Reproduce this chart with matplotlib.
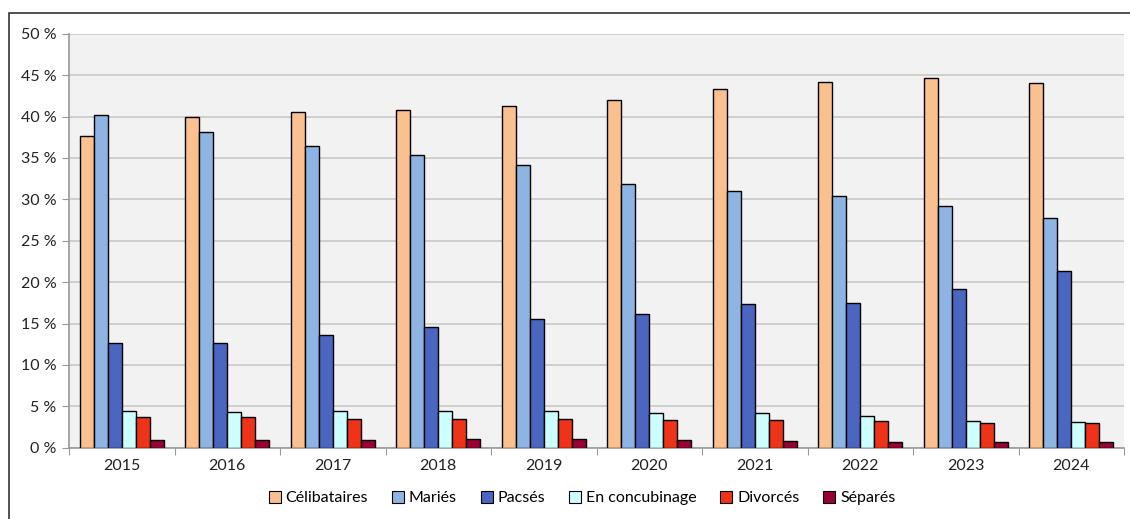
import matplotlib.pyplot as plt
import matplotlib.patches as mpatches
import numpy as np

plt.rcParams['font.family'] = ['Lato', 'DejaVu Sans']

annees = ['2015', '2016', '2017', '2018', '2019', '2020', '2021', '2022', '2023', '2024']
celibataires = [37.7, 40.0, 40.5, 40.8, 41.3, 42.0, 43.3, 44.2, 44.65, 44.1]
maries = [40.2, 38.1, 36.5, 35.3, 34.2, 31.9, 31.0, 30.4, 29.15, 27.7]
pacses = [12.7, 12.6, 13.6, 14.6, 15.5, 16.1, 17.3, 17.5, 19.2, 21.4]
concubinage = [4.47, 4.27, 4.47, 4.46, 4.4, 4.25, 4.15, 3.83, 3.22, 3.07]
divorces = [3.67, 3.7, 3.5, 3.5, 3.46, 3.3, 3.3, 3.26, 2.94, 2.94]
separes = [0.89, 0.89, 0.93, 1.05, 1.05, 0.93, 0.8, 0.73, 0.73, 0.65]

series = [celibataires, maries, pacses, concubinage, divorces, separes]
noms = ['Célibataires', 'Mariés', 'Pacsés', 'En concubinage', 'Divorcés', 'Séparés']
couleurs = ['#FAC090', '#8EB4E3', '#4A66C0', '#CCFFFF', '#EE3318', '#990033']

fig = plt.figure(figsize=(11.3, 5.19), dpi=100)
ax = fig.add_axes([0.0611, 0.1374, 0.9336, 0.7976])

x = np.arange(len(annees))
w = 0.133
for i, (vals, nom, c) in enumerate(zip(series, noms, couleurs)):
    ax.bar(x + (i - 2.5) * w, vals, w, color=c, edgecolor='black', linewidth=1.0,
           label=nom, zorder=3)

ax.set_facecolor('#F2F2F2')
ax.set_xlim(-0.5, len(annees) - 0.5)
ax.set_ylim(0, 50)
ax.set_yticks(np.arange(0, 51, 5))
ax.set_yticklabels([f'{v} %' for v in range(0, 51, 5)], fontsize=11.5, color='#222222')
ax.yaxis.grid(True, color='#C8C8C8', linewidth=1.2, zorder=0)

ax.set_xticks(np.arange(-0.5, len(annees), 1))
ax.set_xticklabels([])
ax.set_xticks(x, minor=True)
ax.set_xticklabels(annees, minor=True, fontsize=11.5, color='#222222')
ax.tick_params(axis='x', which='minor', length=0, pad=8)
ax.tick_params(axis='x', which='major', length=5, color='#999999')
ax.tick_params(axis='y', length=5, color='#999999', pad=4)

for s in ['top', 'right']:
    ax.spines[s].set_visible(False)
for s in ['left', 'bottom']:
    ax.spines[s].set_color('#999999')
    ax.spines[s].set_linewidth(1.2)

leg = fig.legend(loc='center', bbox_to_anchor=(0.515, 0.04), ncol=6, frameon=False,
                 fontsize=11.5, handlelength=0.75, handleheight=0.75,
                 handletextpad=0.3, columnspacing=1.5)
for h in leg.legend_handles:
    h.set_linewidth(0.8)

# cadre extérieur
cadre = mpatches.Rectangle((9 / 1130, -0.1), 1.2, 1.1 - 13 / 519 + 0.0,
                           transform=fig.transFigure, fill=False,
                           edgecolor='#333333', linewidth=1.2, clip_on=False)
fig.patches.append(cadre)

fig.savefig('out.png', dpi=100)
